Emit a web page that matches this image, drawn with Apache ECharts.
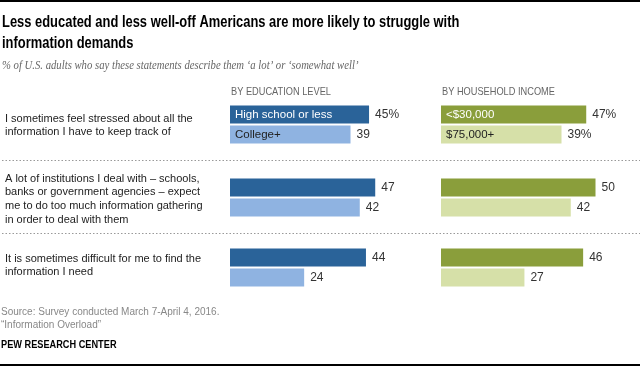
<!DOCTYPE html>
<html>
<head>
<meta charset="utf-8">
<script src="https://cdn.jsdelivr.net/npm/echarts@6/dist/echarts.min.js"></script>
<style>html,body{margin:0;padding:0;background:#fff}#c{width:640px;height:367px}</style>
</head>
<body>
<div id="c"></div>
<script>
// ---- data ----
const statements = [
  ['I sometimes feel stressed about all the', 'information I have to keep track of'],
  ['A lot of institutions I deal with \u2013 schools,', 'banks or government agencies \u2013 expect', 'me to do too much information gathering', 'in order to deal with them'],
  ['It is sometimes difficult for me to find the', 'information I need']
];
const groupTitles = ['BY EDUCATION LEVEL', 'BY HOUSEHOLD INCOME'];
const educationLabels = ['High school or less', 'College+'];
const incomeLabels = ['<$30,000', '$75,000+'];
const eduHighSchool = [45, 47, 44];
const eduCollege = [39, 42, 24];
const incomeLow = [47, 50, 46];
const incomeHigh = [39, 42, 27];

// ---- layout / style ----
const rowTops = [104.5, 177.5, 247.5];
const colLeft = [230, 441];
const unitPx = 3.09;
const xMax = 60;
const colors = [['#2a6399', '#8fb3e1'], ['#8a9e3b', '#d6e0a8']];
const innerLabelColors = [['#ffffff', '#222222'], ['#ffffff', '#222222']];
const bodyFont = '"Liberation Sans", Arial, sans-serif';

const grids = [], xAxes = [], yAxes = [], series = [];
const colData = [[eduHighSchool, eduCollege], [incomeLow, incomeHigh]];
const colNames = [educationLabels, incomeLabels];

for (let r = 0; r < 3; r++) {
  for (let c = 0; c < 2; c++) {
    const gi = grids.length;
    grids.push({left: colLeft[c], top: rowTops[r], width: xMax * unitPx, height: 40});
    xAxes.push({type: 'value', gridIndex: gi, min: 0, max: xMax, show: false});
    yAxes.push({type: 'category', gridIndex: gi, data: colNames[c], inverse: true, show: false});
    const vals = [colData[c][0][r], colData[c][1][r]];
    series.push({
      type: 'bar', xAxisIndex: gi, yAxisIndex: gi, barWidth: 18, silent: true,
      data: vals.map((v, k) => ({value: v, itemStyle: {color: colors[c][k]}})),
      label: {
        show: true, position: 'right', distance: 6,
        fontFamily: bodyFont, fontSize: 12, color: '#333',
        formatter: p => {
          const pct = r === 0 && (c === 1 || p.dataIndex === 0);
          return p.value + (pct ? '%' : '');
        }
      }
    });
    if (r === 0) {
      series.push({
        type: 'bar', xAxisIndex: gi, yAxisIndex: gi, barWidth: 18, barGap: '-100%', silent: true,
        data: vals.map((v, k) => ({value: v, itemStyle: {color: 'rgba(0,0,0,0)'},
          label: {color: innerLabelColors[c][k]}})),
        label: {
          show: true, position: 'insideLeft', distance: 5,
          fontFamily: bodyFont, fontSize: 11.5,
          formatter: p => colNames[c][p.dataIndex]
        }
      });
    }
  }
}

function txt(x, y, text, font, fill, extra) {
  return Object.assign({type: 'text', x: x, y: y,
    style: Object.assign({text: text, font: font, fill: fill, verticalAlign: 'top', align: 'left'}, extra && extra.style || {})},
    extra && extra.el || {});
}

const graphic = [
  {type: 'rect', shape: {x: 0, y: 0, width: 640, height: 2}, style: {fill: '#000'}},
  {type: 'rect', shape: {x: 0, y: 364, width: 640, height: 2}, style: {fill: '#000'}},
  txt(2, 12, 'Less educated and less well-off Americans are more likely to struggle with\ninformation demands',
    'bold 17px "Liberation Sans", Arial, sans-serif', '#000', {style: {lineHeight: 21}, el: {scaleX: 0.76}}),
  txt(2, 60, '% of U.S. adults who say these statements describe them \u2018a lot\u2019 or \u2018somewhat well\u2019',
    'italic 11.5px "Liberation Serif", Georgia, serif', '#666', {el: {scaleX: 0.93}}),
  txt(231, 87, groupTitles[0], '10.5px ' + bodyFont, '#666', {el: {scaleX: 0.88}}),
  txt(442, 87, groupTitles[1], '10.5px ' + bodyFont, '#666', {el: {scaleX: 0.88}}),
  {type: 'line', shape: {x1: 2, y1: 160.5, x2: 640, y2: 160.5}, style: {stroke: '#999', lineWidth: 1, lineDash: [1.5, 2]}},
  {type: 'line', shape: {x1: 2, y1: 233.5, x2: 640, y2: 233.5}, style: {stroke: '#999', lineWidth: 1, lineDash: [1.5, 2]}},
  txt(1, 306, 'Source: Survey conducted March 7-April 4, 2016.\n\u201cInformation Overload\u201d',
    '10px ' + bodyFont, '#888', {style: {lineHeight: 13}}),
  txt(1, 340, 'PEW RESEARCH CENTER', 'bold 10px ' + bodyFont, '#000', {el: {scaleX: 0.92}})
];
const stmtTops = [112, 172, 252];
statements.forEach((lines, i) => {
  graphic.push(txt(5, stmtTops[i], lines.join('\n'), '11px ' + bodyFont, '#222', {style: {lineHeight: 13.6}}));
});

const chart = echarts.init(document.getElementById('c'), null, {renderer: 'canvas'});
chart.setOption({animation: false, grid: grids, xAxis: xAxes, yAxis: yAxes, series: series, graphic: graphic});
</script>
</body>
</html>
